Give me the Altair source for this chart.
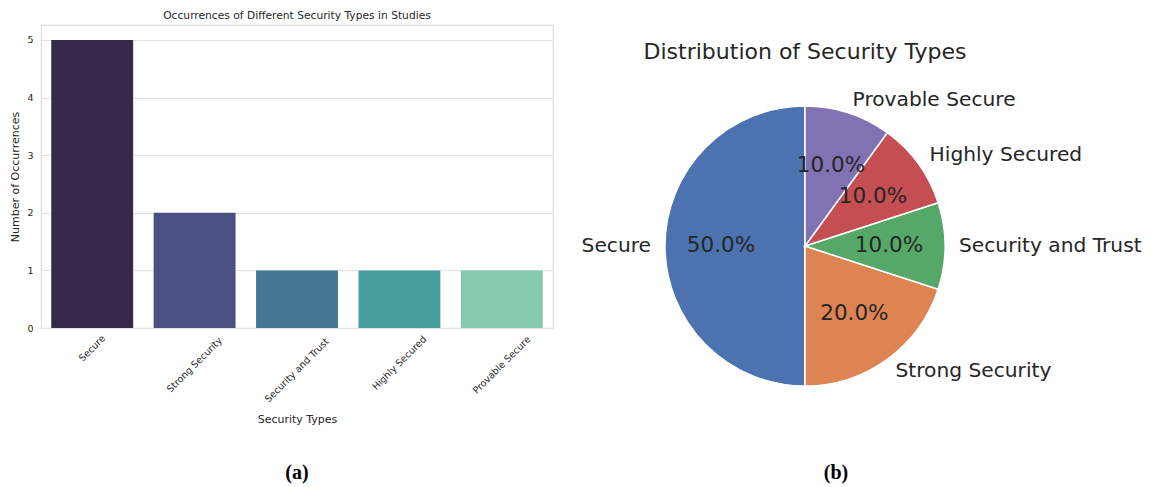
import altair as alt
import pandas as pd

types = ["Secure", "Strong Security", "Security and Trust", "Highly Secured", "Provable Secure"]
counts = [5, 2, 1, 1, 1]
bar_colors = ["#36284a", "#4a5082", "#427894", "#469f9d", "#85caac"]
pie_colors = ["#4c72b0", "#dd8452", "#55a868", "#c44e52", "#8172b3"]
y_ticks = [0, 1, 2, 3, 4, 5]
captions = ["(a)", "(b)"]

df = pd.DataFrame({"type": types, "count": counts})

TXT = "#262626"
FONT = "DejaVu Sans"
H = 303

# ---------- bar chart ----------
xenc = alt.X("type:N", sort=types, title="Security Types",
             scale=alt.Scale(paddingInner=0.2, paddingOuter=0.1),
             axis=alt.Axis(labels=False, ticks=False, domain=False, grid=False,
                           titleFontSize=11, titleColor=TXT, titleFontWeight="normal",
                           titlePadding=85, titleFont=FONT))

bars = alt.Chart(df).mark_bar(stroke=None).encode(
    x=xenc,
    y=alt.Y("count:Q", title="Number of Occurrences",
            scale=alt.Scale(domain=[0, 5.26], nice=False),
            axis=alt.Axis(values=y_ticks, ticks=False, domain=False, labelPadding=8,
                          labelFontSize=9.5, labelColor=TXT, titleFontSize=11,
                          titleColor=TXT, titleFontWeight="normal", titlePadding=6,
                          gridColor="#e2e2e2", gridWidth=1, labelFont=FONT, titleFont=FONT)),
    color=alt.Color("type:N", sort=types, legend=None,
                    scale=alt.Scale(domain=types, range=bar_colors)),
)

# rotated tick labels, centred under each bar, their rotated box hanging from the axis
xlabels = alt.Chart(df).transform_calculate(
    ly=f"{H} + 6 + (length(datum.type) * 5.2 + 9.5) * 0.3535"
).mark_text(angle=315, align="center", baseline="middle", fontSize=9.5,
            color=TXT, font=FONT).encode(
    x=alt.X("type:N", sort=types),
    y=alt.Y("ly:Q", scale=None),
    text="type:N",
)

# ---------- pie chart ----------
CX, CY, R = 764, 221, 140

pie_base = alt.Chart(df).transform_window(
    idx="row_number()"
).transform_joinaggregate(
    total="sum(count)"
).transform_window(
    cum="sum(count)", frame=[None, 0]
).transform_calculate(
    pct="datum.count / datum.total",
    mid="(datum.cum - datum.count / 2) / datum.total",
).transform_calculate(
    side="sin(2 * PI * (1 - datum.mid))"
)

theta_enc = alt.Theta("count:Q", stack=True,
                      scale=alt.Scale(range=[6.283185307179586, 0]))

arcs = pie_base.mark_arc(outerRadius=R, stroke="white", strokeWidth=1.5).encode(
    theta=theta_enc,
    order=alt.Order("idx:Q"),
    color=alt.Color("type:N", legend=None,
                    scale=alt.Scale(domain=types, range=pie_colors)),
    x=alt.value(CX), y=alt.value(CY),
)

pct_text = pie_base.mark_text(radius=R * 0.6, fontSize=21.5, color=TXT, font=FONT,
                              align="center", baseline="middle").encode(
    theta=theta_enc,
    order=alt.Order("idx:Q"),
    text=alt.Text("pct:Q", format=".1%"),
    x=alt.value(CX), y=alt.value(CY),
)

lab_right = pie_base.mark_text(
    radius=R * 1.1, fontSize=20.2, color=TXT, font=FONT, align="left", baseline="middle"
).encode(
    theta=theta_enc,
    order=alt.Order("idx:Q"),
    text=alt.condition("datum.side >= 0", alt.Text("type:N"), alt.value("")),
    x=alt.value(CX), y=alt.value(CY),
)

lab_left = pie_base.mark_text(
    radius=R * 1.1, fontSize=20.2, color=TXT, font=FONT, align="right", baseline="middle"
).encode(
    theta=theta_enc,
    order=alt.Order("idx:Q"),
    text=alt.condition("datum.side < 0", alt.Text("type:N"), alt.value("")),
    x=alt.value(CX), y=alt.value(CY),
)

pie_title = alt.Chart(pd.DataFrame({"t": ["Distribution of Security Types"]})).mark_text(
    fontSize=22, color=TXT, font=FONT, align="center", baseline="middle"
).encode(text="t:N", x=alt.value(CX), y=alt.value(27))

cap_df = pd.DataFrame({"cap": captions, "px": [256, 795]})
cap = alt.Chart(cap_df).mark_text(
    fontSize=20, fontWeight="bold", font="Liberation Serif", color="black",
    align="center", baseline="middle"
).encode(text="cap:N", x=alt.X("px:Q", scale=None), y=alt.value(448))

chart = alt.layer(
    bars, xlabels, arcs, pct_text, lab_right, lab_left, pie_title, cap
).resolve_scale(
    color="independent"
).properties(
    width=512, height=H,
    autosize=alt.AutoSizeParams(type="none"),
    padding={"left": 33, "top": 17, "right": 590, "bottom": 158},
    title=alt.TitleParams("Occurrences of Different Security Types in Studies",
                          fontSize=10.7, fontWeight="normal", color=TXT, font=FONT,
                          offset=3, anchor="middle"),
    background="white",
).configure_view(
    stroke="#dddddd", strokeWidth=1.2
)

chart.save("out.html", embed_options={"renderer": "svg", "actions": False})
